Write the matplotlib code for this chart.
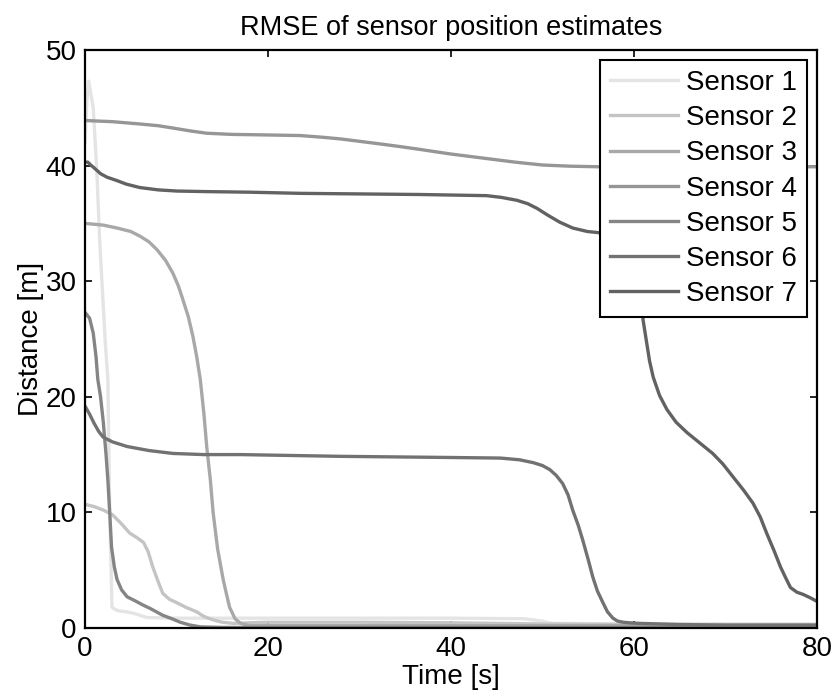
import numpy as np
import matplotlib
matplotlib.use("Agg")
from matplotlib import pyplot as plt

plt.rcParams['font.family'] = ['Liberation Sans', 'DejaVu Sans']

# Sensor 1
t1 = [0, 0.2, 0.4, 0.9, 1.3, 1.6, 2.2, 2.5, 2.7, 2.95, 3.3, 3.6, 4.5, 5.2, 6.8, 10, 20, 30, 40, 48, 50, 51, 60, 70, 80]
d1 = [42, 45.5, 47.3, 45, 39.4, 33.6, 24.9, 21.5, 10, 1.8, 1.6, 1.5, 1.4, 1.3, 0.9, 0.85, 0.85, 0.85, 0.85, 0.8, 0.6, 0.4, 0.35, 0.35, 0.35]
# Sensor 2
t2 = [0, 1, 2, 3, 4, 4.9, 5.7, 6.4, 6.9, 7.4, 8, 8.5, 9.2, 10, 11, 12.2, 13, 14, 15, 16.2, 18, 20, 30, 40, 50, 60, 70, 80]
d2 = [10.7, 10.5, 10.2, 9.8, 9.0, 8.2, 7.8, 7.4, 6.6, 5.3, 4.0, 3.0, 2.5, 2.2, 1.8, 1.4, 1.0, 0.7, 0.5, 0.4, 0.45, 0.5, 0.5, 0.45, 0.35, 0.3, 0.3, 0.3]
# Sensor 3
t3 = [0, 2, 3.5, 5, 6, 7, 7.9, 8.8, 9.6, 10.2, 10.7, 11.3, 11.8, 12.2, 12.6, 13, 13.3, 13.7, 14, 14.5, 15.1, 15.5, 15.8,
      16.4, 17, 18, 20, 40, 60, 80]
d3 = [35, 34.85, 34.6, 34.3, 33.9, 33.4, 32.7, 31.8, 30.7, 29.6, 28.4, 26.9, 25.2, 23.5, 21.5, 18.5, 15.7, 12.8, 10, 6.8, 4.2, 2.8, 1.8,
      0.8, 0.4, 0.2, 0.2, 0.2, 0.2, 0.2]
# Sensor 4
t4 = [0, 3, 6, 8, 9.6, 11.5, 13.3, 16, 20, 23.5, 26, 28, 30, 32, 34.4, 36.6, 40, 44, 47, 50, 53, 56, 60, 70, 80]
d4 = [43.9, 43.8, 43.6, 43.45, 43.25, 43.0, 42.8, 42.7, 42.65, 42.6, 42.45, 42.3, 42.1, 41.9, 41.65, 41.4, 41.0, 40.6, 40.3, 40.05, 39.95, 39.9, 39.9, 39.9, 39.9]
# Sensor 5
t5 = [0, 0.5, 0.9, 1.2, 1.4, 1.7, 2.0, 2.3, 2.5, 2.7, 2.9, 3.2, 3.5, 4, 4.6, 5.6, 6.3, 7.1, 7.8, 8.5, 9.5, 10.4, 11.5, 12.6,
      15, 20, 40, 60, 80]
d5 = [27.3, 26.8, 25.5, 23.5, 21.5, 20, 17.8, 15.0, 12.8, 10, 7, 5.3, 4.2, 3.3, 2.7, 2.3, 2.0, 1.7, 1.4, 1.1, 0.8, 0.5, 0.25, 0.1,
      0.05, 0.05, 0.05, 0.05, 0.05]
# Sensor 6
t6 = [0, 0.5, 1, 1.5, 2, 3, 4.6, 7, 9.6, 13, 17, 27.9, 40, 45.4, 47.5, 49, 50, 50.8, 51.5, 52.2, 52.8, 53.3, 53.9, 54.4, 55,
      55.5, 56, 56.6, 57.1, 57.7, 58.2, 58.8, 59.5, 60.6, 65, 70, 80]
d6 = [19.2, 18.5, 17.7, 17.0, 16.5, 16.1, 15.7, 15.35, 15.1, 15.0, 15.0, 14.85, 14.75, 14.7, 14.55, 14.3, 14.05, 13.7, 13.2, 12.5, 11.5, 10.2, 8.9, 7.6, 5.9,
      4.4, 3.2, 2.2, 1.4, 0.85, 0.6, 0.5, 0.45, 0.4, 0.3, 0.25, 0.25]
# Sensor 7
t7 = [0, 0.3, 0.7, 1, 1.7, 2.4, 3.5, 4.5, 6, 8, 10, 13.3, 18, 23.5, 30, 36.6, 43.9, 45.5, 47.2, 48.4, 49.4, 50.6, 51.9, 53.3,
      54.9, 56.1, 57.5, 58.5, 59.3, 59.9, 60.3, 60.7, 61, 61.4, 61.7, 62.1, 62.8, 63.6, 64.6, 65.8, 67.2, 68.6, 69.7, 70.8,
      72, 73, 73.8, 74.5, 75.3, 76, 76.6, 77.1, 77.8, 78.5, 79.3, 80]
d7 = [40.3, 40.3, 40.0, 39.8, 39.3, 39.0, 38.7, 38.4, 38.1, 37.9, 37.8, 37.75, 37.7, 37.6, 37.55, 37.5, 37.4, 37.25, 37.0, 36.7, 36.3, 35.7, 35.1, 34.6,
      34.3, 34.2, 34.1, 33.8, 33.2, 32.3, 31.0, 29.0, 26.6, 24.6, 23.1, 21.7, 20.1, 18.9, 17.8, 16.9, 16.0, 15.1, 14.2, 13.1,
      11.9, 10.8, 9.6, 8.2, 6.7, 5.3, 4.3, 3.5, 3.1, 2.9, 2.6, 2.3]

times = [t1, t2, t3, t4, t5, t6, t7]
dists = [d1, d2, d3, d4, d5, d6, d7]
labels = ['Sensor %d' % (i + 1) for i in range(7)]
colors = ['#e4e4e4', '#c4c4c4', '#a8a8a8', '#969696', '#858585', '#727272', '#626262']

fig = plt.figure(figsize=(8.35, 7.0), dpi=100)
ax = fig.add_axes([85 / 835, 1 - 628 / 700, (817 - 85) / 835, (628 - 50) / 700])

for t, d, lab, c in zip(times, dists, labels, colors):
    ax.plot(t, d, color=c, lw=2.4, label=lab, solid_joinstyle='round')

ax.set_xlim(0, 80)
ax.set_ylim(0, 50)
ax.set_xticks([0, 20, 40, 60, 80])
ax.set_yticks([0, 10, 20, 30, 40, 50])
ax.tick_params(direction='in', length=5, width=1.2, top=True, right=True, labelsize=20, pad=6)
for s in ax.spines.values():
    s.set_linewidth(1.6)

ax.set_title('RMSE of sensor position estimates', fontsize=19.5, pad=11)
ax.set_xlabel('Time [s]', fontsize=20, labelpad=1)
ax.set_ylabel('Distance [m]', fontsize=20, labelpad=1)

leg = ax.legend(loc='upper right', fontsize=20, fancybox=False, framealpha=1, edgecolor='black',
                handlelength=2.45, handletextpad=0.3, labelspacing=0.33, borderpad=0.36,
                borderaxespad=0.36)
leg.get_frame().set_linewidth(1.5)

fig.savefig('out.png', dpi=100)
